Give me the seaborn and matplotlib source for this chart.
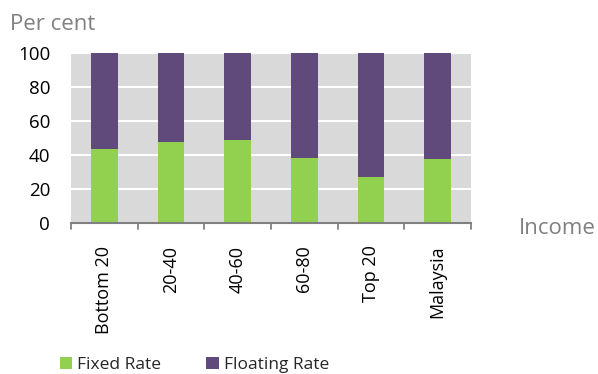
import matplotlib
matplotlib.use("Agg")
import matplotlib.pyplot as plt
import seaborn as sns
import pandas as pd
from matplotlib.patches import Patch

categories = ["Bottom 20", "20-40", "40-60", "60-80", "Top 20", "Malaysia"]
fixed_rate = [44, 48, 49, 38.5, 27, 38]
floating_rate = [100 - v for v in fixed_rate]

GREEN = "#92D050"
PURPLE = "#604A7B"

sns.set_theme(style="white")
plt.rcParams["font.family"] = ["Open Sans", "DejaVu Sans"]

fig = plt.figure(figsize=(5.98, 3.74), dpi=100)
ax = fig.add_axes([71 / 598, 1 - 223.3 / 374, 400 / 598, 170 / 374])
ax.set_facecolor("#D9D9D9")

df = pd.DataFrame({"cat": categories, "fixed": fixed_rate, "total": [100] * len(categories)})
sns.barplot(data=df, x="cat", y="total", color=PURPLE, width=0.4, ax=ax,
            saturation=1, linewidth=0, zorder=3)
sns.barplot(data=df, x="cat", y="fixed", color=GREEN, width=0.4, ax=ax,
            saturation=1, linewidth=0, zorder=4)

ax.set_ylim(0, 100)
ax.set_xlim(-0.5, len(categories) - 0.5)
ax.set_yticks(range(0, 101, 20))
ax.yaxis.grid(True, color="white", linewidth=1.5, zorder=1)
ax.set_axisbelow(True)
for s in ["top", "right", "left"]:
    ax.spines[s].set_visible(False)
ax.spines["bottom"].set_color("#808080")
ax.spines["bottom"].set_linewidth(1.5)
ax.spines["bottom"].set_zorder(5)

ax.set_xlabel("")
ax.set_ylabel("")
ax.set_xticks(range(len(categories)))
ax.set_xticklabels(categories, rotation=90, fontsize=13, color="black")
ax.tick_params(axis="x", length=0, pad=16)
ax.tick_params(axis="y", length=0, labelsize=13.5, colors="black", pad=15)

# boundary ticks between categories
for b in [i - 0.5 for i in range(len(categories) + 1)]:
    ax.plot([b, b], [0, -3.2], color="#808080", linewidth=1.3, clip_on=False, zorder=5)

fig.text(10 / 598, 1 - 24 / 374, "Per cent", fontsize=16, color="#808080", va="center", ha="left")
fig.text(519 / 598, 1 - 229 / 374, "Income", fontsize=16, color="#808080", va="center", ha="left")

handles = [Patch(facecolor=GREEN, edgecolor="none", label="Fixed Rate"),
           Patch(facecolor=PURPLE, edgecolor="none", label="Floating Rate")]
fig.legend(handles=handles, loc="center left", bbox_to_anchor=(53 / 598, 1 - 365 / 374),
           ncol=2, frameon=False, fontsize=12.5, handlelength=0.7, handleheight=0.7,
           handletextpad=0.3, columnspacing=2.6, borderaxespad=0)

fig.savefig("out.png", dpi=100)
